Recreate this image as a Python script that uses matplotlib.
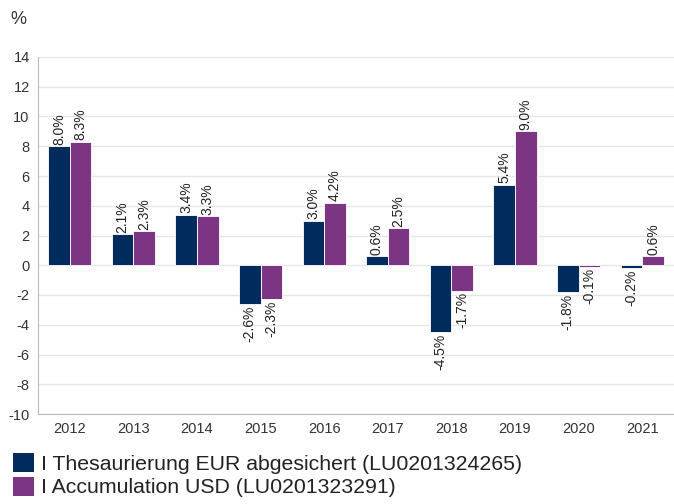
import numpy as np
import matplotlib.pyplot as plt
from matplotlib.patches import Patch

plt.rcParams["font.family"] = ["Liberation Sans", "DejaVu Sans"]
plt.rcParams["axes.unicode_minus"] = False

years = ["2012", "2013", "2014", "2015", "2016", "2017", "2018", "2019", "2020", "2021"]
eur_hedged = [8.0, 2.1, 3.4, -2.6, 3.0, 0.6, -4.5, 5.4, -1.8, -0.2]
usd_acc = [8.3, 2.3, 3.3, -2.3, 4.2, 2.5, -1.7, 9.0, -0.1, 0.6]
series_names = ["I Thesaurierung EUR abgesichert (LU0201324265)",
                "I Accumulation USD (LU0201323291)"]
colors = ["#002b5c", "#7b3583"]

fig = plt.figure(figsize=(6.74, 5.04), dpi=100)
ax = fig.add_axes([38 / 674, 1 - 414 / 504, 1 - 38 / 674, (414 - 57) / 504])

x = np.arange(len(years))
w = 0.34
for i, vals in enumerate([eur_hedged, usd_acc]):
    pos = x + (i - 0.5) * w
    ax.bar(pos, vals, width=w, color=colors[i], edgecolor="white", linewidth=0.6, zorder=3)
    for p, v in zip(pos, vals):
        if v >= 0:
            ax.text(p, v + 0.1, f"{v:.1f}%", rotation=90, ha="center", va="bottom",
                    fontsize=10, color="#222222")
        else:
            ax.text(p, v - 0.1, f"{v:.1f}%", rotation=90, ha="center", va="top",
                    fontsize=10, color="#222222")

ax.set_xlim(-0.5, len(years) - 0.5)
ax.set_ylim(-10, 14)
ax.set_yticks(range(-10, 15, 2))
ax.set_xticks(x)
ax.set_xticklabels(years)
ax.tick_params(axis="both", length=0, labelsize=10.5, colors="#333333", pad=6)
ax.grid(axis="y", color="#e6e6e6", linewidth=1, zorder=0)
for s in ["top", "right"]:
    ax.spines[s].set_visible(False)
ax.spines["left"].set_color("#bbbbbb")
ax.spines["bottom"].set_color("#bbbbbb")

fig.text(10 / 674, 1 - 19 / 504, "%", fontsize=13, color="#333333", va="center")

handles = [Patch(facecolor=c) for c in colors]
fig.legend(handles, series_names, loc="lower left", bbox_to_anchor=(0.0, -0.012),
           frameon=False, fontsize=15.3, handlelength=1.0, handleheight=1.0,
           handletextpad=0.33, labelspacing=0.12, borderaxespad=0.2,
           labelcolor="#222222")

fig.savefig("out.png", dpi=100)
